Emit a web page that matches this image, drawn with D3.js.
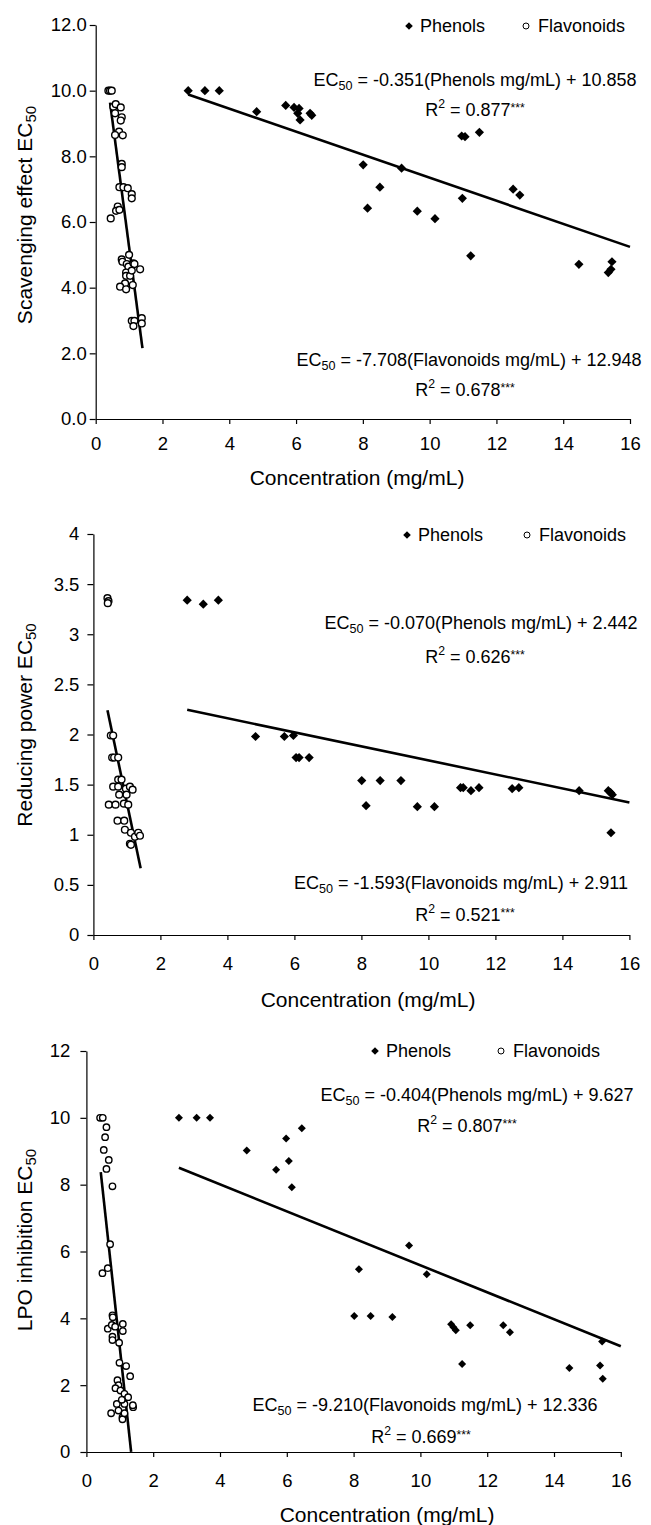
<!DOCTYPE html>
<html lang="en">
<head>
  <meta charset="utf-8">
  <title>EC50 vs concentration</title>
  <script src="https://cdn.jsdelivr.net/npm/d3@7"></script>
  <style>
    body { margin: 0; background: #fff; }
    svg { display: block; font-family: "Liberation Sans", Arial, sans-serif; }
  </style>
</head>
<body>
<div id="chart"></div>
<script>
"use strict"

// x axis, shared by all three panels
const xTicks = [0, 2, 4, 6, 8, 10, 12, 14, 16];

// panel 1 - scavenging effect
const scavYTicks = [0, 2, 4, 6, 8, 10, 12];
const scavPhenols = [
  [2.77, 10.0], [3.27, 10.0], [3.70, 10.0], [4.82, 9.36], [5.69, 9.55], [5.94, 9.49], [6.09, 9.46],
  [6.05, 9.31], [6.12, 9.11], [6.42, 9.31], [6.47, 9.25], [8.01, 7.74], [8.14, 6.42], [8.51, 7.06],
  [9.16, 7.64], [9.63, 6.33], [10.16, 6.10], [10.96, 8.62], [11.06, 8.60], [11.49, 8.73], [10.98, 6.72],
  [11.23, 4.97], [12.50, 7.00], [12.70, 6.82], [14.47, 4.71], [15.46, 4.79], [15.35, 4.46], [15.43, 4.56]
];
const scavFlavonoids = [
  [0.38, 10.0], [0.43, 10.0], [0.48, 10.0], [0.53, 9.51], [0.60, 9.59], [0.75, 9.49], [0.58, 9.31],
  [0.78, 9.19], [0.75, 9.09], [0.70, 8.75], [0.81, 8.64], [0.58, 8.65], [0.78, 7.77], [0.78, 7.67],
  [0.71, 7.06], [0.83, 7.06], [0.96, 7.03], [1.08, 6.85], [1.08, 6.72], [0.66, 6.47], [0.61, 6.34],
  [0.71, 6.37], [0.45, 6.11], [1.00, 5.00], [0.78, 4.86], [0.80, 4.79], [0.93, 4.72], [0.98, 4.64],
  [1.13, 4.74], [1.16, 4.72], [1.33, 4.56], [0.91, 4.46], [0.91, 4.36], [1.03, 4.36], [1.08, 4.52],
  [0.88, 4.13], [0.73, 4.03], [0.91, 3.95], [1.11, 4.08], [1.08, 2.99], [1.16, 2.99], [1.38, 3.07],
  [1.38, 2.91], [1.13, 2.83]
];
// slope, intercept, first x, last x
const scavFitPhenols = [-0.351, 10.858, 2.77, 16];
const scavFitFlavonoids = [-7.708, 12.948, 0.43, 1.40];
const scavEq = ["-0.351(Phenols mg/mL) + 10.858", "0.877", "-7.708(Flavonoids mg/mL) + 12.948", "0.678"];

// panel 2 - reducing power
const redYTicks = [0, 0.5, 1, 1.5, 2, 2.5, 3, 3.5, 4];
const redPhenols = [
  [2.80, 3.34], [3.28, 3.30], [3.73, 3.34], [4.84, 1.98], [5.70, 1.98], [5.97, 1.99], [6.05, 1.77],
  [6.14, 1.77], [6.44, 1.77], [8.01, 1.54], [8.14, 1.29], [8.56, 1.54], [9.18, 1.54], [9.67, 1.28],
  [10.18, 1.28], [10.96, 1.47], [11.04, 1.47], [11.27, 1.44], [11.51, 1.47], [12.50, 1.46], [12.70, 1.47],
  [14.50, 1.44], [15.37, 1.44], [15.44, 1.42], [15.49, 1.40], [15.45, 1.02]
];
const redFlavonoids = [
  [0.42, 3.36], [0.45, 3.33], [0.43, 3.31], [0.52, 1.99], [0.59, 1.99], [0.56, 1.77], [0.62, 1.77],
  [0.74, 1.77], [0.74, 1.55], [0.84, 1.55], [0.59, 1.48], [0.74, 1.48], [0.97, 1.46], [1.09, 1.48],
  [1.17, 1.45], [0.77, 1.40], [0.99, 1.40], [0.46, 1.30], [0.66, 1.30], [0.91, 1.31], [1.04, 1.30],
  [0.72, 1.14], [0.92, 1.14], [0.94, 1.05], [1.12, 1.02], [1.24, 0.98], [1.34, 1.02], [1.39, 0.99],
  [1.09, 0.91], [1.12, 0.90]
];
const redFitPhenols = [-0.070, 2.442, 2.80, 16];
const redFitFlavonoids = [-1.593, 2.911, 0.42, 1.41];
const redEq = ["-0.070(Phenols mg/mL) + 2.442", "0.626", "-1.593(Flavonoids mg/mL) + 2.911", "0.521"];

// panel 3 - LPO inhibition
const lpoYTicks = [0, 2, 4, 6, 8, 10, 12];
const lpoPhenols = [
  [2.77, 10.0], [3.30, 10.0], [3.70, 10.0], [4.80, 9.02], [5.68, 8.45], [5.98, 9.38], [6.06, 8.71],
  [6.15, 7.92], [6.45, 9.69], [8.02, 4.07], [8.16, 5.47], [8.51, 4.07], [9.16, 4.04], [9.66, 6.18],
  [10.19, 5.32], [10.92, 3.82], [10.99, 3.73], [11.06, 3.64], [11.25, 2.63], [11.49, 3.79], [12.48, 3.79],
  [12.68, 3.58], [14.46, 2.51], [15.44, 3.31], [15.38, 2.59], [15.46, 2.19]
];
const lpoFlavonoids = [
  [0.41, 10.0], [0.49, 10.0], [0.60, 9.72], [0.56, 9.42], [0.52, 9.04], [0.67, 8.74], [0.60, 8.47],
  [0.78, 7.95], [0.71, 6.22], [0.64, 5.50], [0.48, 5.35], [0.78, 4.09], [0.79, 4.03], [0.64, 3.69],
  [0.76, 3.80], [0.86, 3.75], [1.09, 3.83], [1.09, 3.62], [0.78, 3.45], [0.78, 3.35], [0.98, 3.27],
  [0.99, 2.67], [1.19, 2.57], [1.31, 2.27], [0.93, 2.15], [0.96, 2.00], [0.87, 1.91], [1.02, 1.84],
  [1.14, 1.74], [1.25, 1.64], [0.91, 1.44], [1.14, 1.44], [1.40, 1.34], [1.39, 1.40], [0.74, 1.16],
  [0.96, 1.24], [1.06, 1.56], [1.08, 1.04], [1.08, 0.98], [1.14, 1.16]
];
const lpoFitPhenols = [-0.404, 9.627, 2.77, 16];
const lpoFitFlavonoids = [-9.210, 12.336, 0.43, 1.339];
const lpoEq = ["-0.404(Phenols mg/mL) + 9.627", "0.807", "-9.210(Flavonoids mg/mL) + 12.336", "0.669"];

const svg = d3.select('#chart').append('svg')
  .attr('width', 651).attr('height', 1525);

function diamond(r) {
  return 'M0,' + (-r) + 'L' + r + ',0L0,' + r + 'L' + (-r) + ',0Z';
}

// "EC50 = ..." and "R2 = ...***"
function eqText(g, cx, cy, rest, fs) {
  const t = g.append('text').attr('x', cx).attr('y', cy)
    .attr('text-anchor', 'middle').attr('font-size', fs);
  t.append('tspan').text('EC');
  t.append('tspan').attr('font-size', fs * 0.7).attr('dy', 4).text('50');
  t.append('tspan').attr('dy', -4).text(' = ' + rest);
}
function r2Text(g, cx, cy, val, fs) {
  const t = g.append('text').attr('x', cx).attr('y', cy)
    .attr('text-anchor', 'middle').attr('font-size', fs);
  t.append('tspan').text('R');
  t.append('tspan').attr('font-size', fs * 0.68).attr('dy', -8).text('2');
  t.append('tspan').attr('dy', 8).text(' = ' + val);
  t.append('tspan').attr('font-size', fs * 0.68).attr('dy', -4).text('***');
}

function drawPanel(p) {
  const g = svg.append('g');
  const x = d3.scaleLinear().domain([0, 16]).range([p.left, p.right]);
  const y = d3.scaleLinear().domain([0, p.ymax]).range([p.bottom, p.top]);

  const ax = g.append('g')
    .attr('transform', 'translate(0,' + p.bottom + ')')
    .call(d3.axisBottom(x).tickValues(xTicks).tickSize(5).tickSizeOuter(0).tickPadding(p.xpad).tickFormat(d3.format('d')));
  const ay = g.append('g')
    .attr('transform', 'translate(' + p.left + ',0)')
    .call(d3.axisLeft(y).tickValues(p.yTicks).tickSize(6).tickSizeOuter(0).tickPadding(p.ypad).tickFormat(p.yFormat));
  [ax, ay].forEach(a => {
    a.attr('font-family', null).attr('font-size', p.tickFs);
    a.selectAll('path, line').attr('stroke', '#000').attr('stroke-width', 1.2);
    a.selectAll('text').attr('fill', '#000');
  });

  // regression lines
  [p.fitP, p.fitF].forEach(f => {
    g.append('line')
      .attr('x1', x(f[2])).attr('y1', y(f[0] * f[2] + f[1]))
      .attr('x2', x(f[3])).attr('y2', y(f[0] * f[3] + f[1]))
      .attr('stroke', '#000').attr('stroke-width', 2.6);
  });

  g.selectAll('path.phen').data(p.phen).enter().append('path')
    .attr('class', 'phen')
    .attr('transform', d => 'translate(' + x(d[0]) + ',' + y(d[1]) + ')')
    .attr('d', diamond(p.dr)).attr('fill', '#000');

  g.selectAll('circle.flav').data(p.flav).enter().append('circle')
    .attr('class', 'flav')
    .attr('cx', d => x(d[0])).attr('cy', d => y(d[1])).attr('r', p.cr)
    .attr('fill', '#fff').attr('stroke', '#000').attr('stroke-width', 1.4);

  // legend
  g.append('path').attr('transform', 'translate(' + p.leg[0] + ',' + p.leg[1] + ')')
    .attr('d', diamond(3.8)).attr('fill', '#000');
  g.append('text').attr('x', p.leg[0] + 11).attr('y', p.leg[1] + 6)
    .attr('font-size', 18).text('Phenols');
  g.append('circle').attr('cx', p.leg[2]).attr('cy', p.leg[1]).attr('r', 3)
    .attr('fill', '#fff').attr('stroke', '#000').attr('stroke-width', 1);
  g.append('text').attr('x', p.leg[2] + 12).attr('y', p.leg[1] + 6)
    .attr('font-size', 18).text('Flavonoids');

  // equations
  eqText(g, p.eq[0], p.eq[1], p.eqs[0], 18);
  r2Text(g, p.eq[2], p.eq[3], p.eqs[1], 18);
  eqText(g, p.eq[4], p.eq[5], p.eqs[2], 18);
  r2Text(g, p.eq[6], p.eq[7], p.eqs[3], 18);

  // axis titles
  g.append('text').attr('x', p.xt[0]).attr('y', p.xt[1])
    .attr('text-anchor', 'middle').attr('font-size', 21).text('Concentration (mg/mL)');
  const yt = g.append('text')
    .attr('transform', 'translate(' + p.yt[0] + ',' + p.yt[1] + ') rotate(-90)')
    .attr('text-anchor', 'middle').attr('font-size', 21);
  yt.append('tspan').text(p.ylabel + ' EC');
  yt.append('tspan').attr('font-size', 15).attr('dy', 4).text('50');
}

drawPanel({
  left: 95.7, right: 630, top: 25, bottom: 419, ymax: 12,
  yTicks: scavYTicks, yFormat: d3.format('.1f'), tickFs: 18.5, xpad: 13, ypad: 3,
  phen: scavPhenols, flav: scavFlavonoids, fitP: scavFitPhenols, fitF: scavFitFlavonoids,
  dr: 4.6, cr: 3.4,
  leg: [409, 26, 526],
  eqs: scavEq, eq: [475, 86, 475, 116, 469, 366, 465, 396],
  xt: [357, 485], yt: [32, 215], ylabel: 'Scavenging effect'
});

drawPanel({
  left: 93.4, right: 629.4, top: 534, bottom: 935, ymax: 4,
  yTicks: redYTicks, yFormat: d => String(d), tickFs: 18.5, xpad: 17, ypad: 8,
  phen: redPhenols, flav: redFlavonoids, fitP: redFitPhenols, fitF: redFitFlavonoids,
  dr: 4.6, cr: 3.4,
  leg: [407, 535, 527],
  eqs: redEq, eq: [481, 629, 475, 663, 461, 889, 465, 921],
  xt: [368, 1007], yt: [32, 725], ylabel: 'Reducing power'
});

drawPanel({
  left: 86.4, right: 620.8, top: 1051, bottom: 1452, ymax: 12,
  yTicks: lpoYTicks, yFormat: d3.format('d'), tickFs: 18.5, xpad: 17, ypad: 10,
  phen: lpoPhenols, flav: lpoFlavonoids, fitP: lpoFitPhenols, fitF: lpoFitFlavonoids,
  dr: 4, cr: 3.2,
  leg: [375, 1051, 501],
  eqs: lpoEq, eq: [477, 1101, 467, 1132, 425, 1411, 421, 1443],
  xt: [387, 1522], yt: [32, 1240], ylabel: 'LPO inhibition'
});
</script>
</body>
</html>
